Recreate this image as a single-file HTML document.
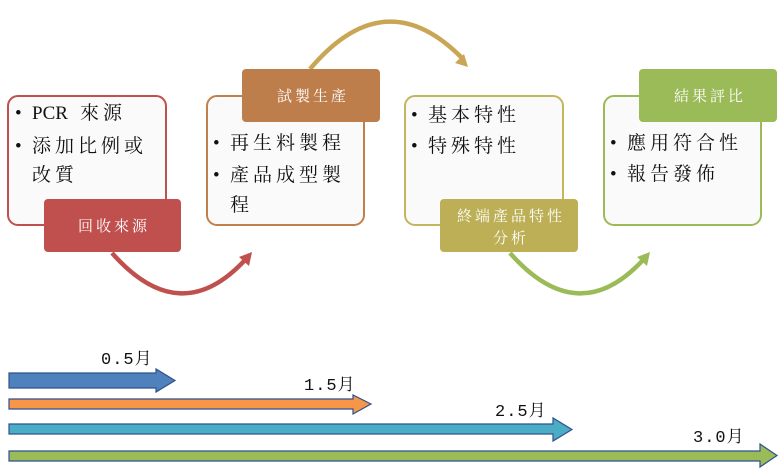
<!DOCTYPE html>
<html><head><meta charset="utf-8"><style>
html,body{margin:0;padding:0;background:#fff;}
svg{display:block;}
text{font-family:"Liberation Serif","Noto Serif CJK SC","Noto Sans CJK TC",serif;}
.m{font-family:"Liberation Mono","Noto Serif CJK SC",monospace;letter-spacing:1px;}
.b{letter-spacing:4px;}
.l{letter-spacing:3px;}
</style></head><body>
<svg width="779" height="470" viewBox="0 0 779 470" xmlns="http://www.w3.org/2000/svg">
<path d="M112,253 Q180,330 245,260" fill="none" stroke="#C0504D" stroke-width="4.5"/>
<polygon points="252,252 239,257 249,266" fill="#C0504D"/>
<path d="M310,69 Q385,-20 462,58" fill="none" stroke="#C9A556" stroke-width="4.5"/>
<polygon points="468,67 455,63 464,54" fill="#C9A556"/>
<path d="M510,253 Q578,330 643,260" fill="none" stroke="#9BBB59" stroke-width="4.5"/>
<polygon points="650,252 637,257 647,266" fill="#9BBB59"/>

<rect x="8" y="96" width="158" height="129" rx="10" fill="#fafafa" stroke="#C0504D" stroke-width="2"/>
<rect x="207" y="96" width="157" height="129" rx="10" fill="#fafafa" stroke="#C0804D" stroke-width="2"/>
<rect x="405" y="96" width="158" height="129" rx="10" fill="#fafafa" stroke="#C4B65E" stroke-width="2"/>
<rect x="604" y="96" width="157" height="129" rx="10" fill="#fafafa" stroke="#9BBB59" stroke-width="2"/>

<g font-size="19" fill="#111">
<text x="15" y="119">•</text><text x="32" y="119">PCR</text><text x="80" y="119" class="b">來源</text>
<text x="15" y="152">•</text><text x="32" y="152" class="b">添加比例或</text>
<text x="32" y="181" class="b">改質</text>
<text x="213" y="149">•</text><text x="230" y="149" class="b">再生料製程</text>
<text x="213" y="181">•</text><text x="230" y="181" class="b">產品成型製</text>
<text x="230" y="211" class="b">程</text>
<text x="411" y="121">•</text><text x="428" y="121" class="b">基本特性</text>
<text x="411" y="152">•</text><text x="428" y="152" class="b">特殊特性</text>
<text x="610" y="149">•</text><text x="627" y="149" class="b">應用符合性</text>
<text x="610" y="180">•</text><text x="627" y="180" class="b">報告發佈</text>
</g>

<rect x="44" y="199" width="137" height="53" rx="4" fill="#C0504D"/>
<text x="114" y="231" font-size="15" fill="#fff" text-anchor="middle" class="l">回收來源</text>
<rect x="242" y="69" width="138" height="53" rx="4" fill="#BE7E4C"/>
<text x="313" y="101" font-size="15" fill="#fff" text-anchor="middle" class="l">試製生產</text>
<rect x="440" y="199" width="138" height="53" rx="4" fill="#BCAF55"/>
<text x="511" y="221" font-size="15" fill="#fff" text-anchor="middle" class="l">終端產品特性</text>
<text x="511" y="243" font-size="15" fill="#fff" text-anchor="middle" class="l">分析</text>
<rect x="639" y="69" width="138" height="53" rx="4" fill="#9BBB59"/>
<text x="710" y="101" font-size="15" fill="#fff" text-anchor="middle" class="l">結果評比</text>

<g stroke-width="1.2">
<polygon points="9,373 156,373 156,369 175,380.5 156,392 156,388 9,388" fill="#4F81BD" stroke="#2F528F"/>
<polygon points="9,399 353,399 353,395 371,404 353,414 353,409 9,409" fill="#F79646" stroke="#2F528F"/>
<polygon points="9,424 553,424 553,418 572,429.5 553,441 553,434 9,434" fill="#4BACC6" stroke="#2F528F"/>
<polygon points="9,451 760,451 760,444 777,455.5 760,467 760,461 9,461" fill="#9BBB59" stroke="#2F528F"/>
</g>
<g font-size="17" fill="#111">
<text x="101" y="364" class="m">0.5月</text>
<text x="304" y="390" class="m">1.5月</text>
<text x="495" y="416" class="m">2.5月</text>
<text x="693" y="442" class="m">3.0月</text>
</g>
</svg>
</body></html>
